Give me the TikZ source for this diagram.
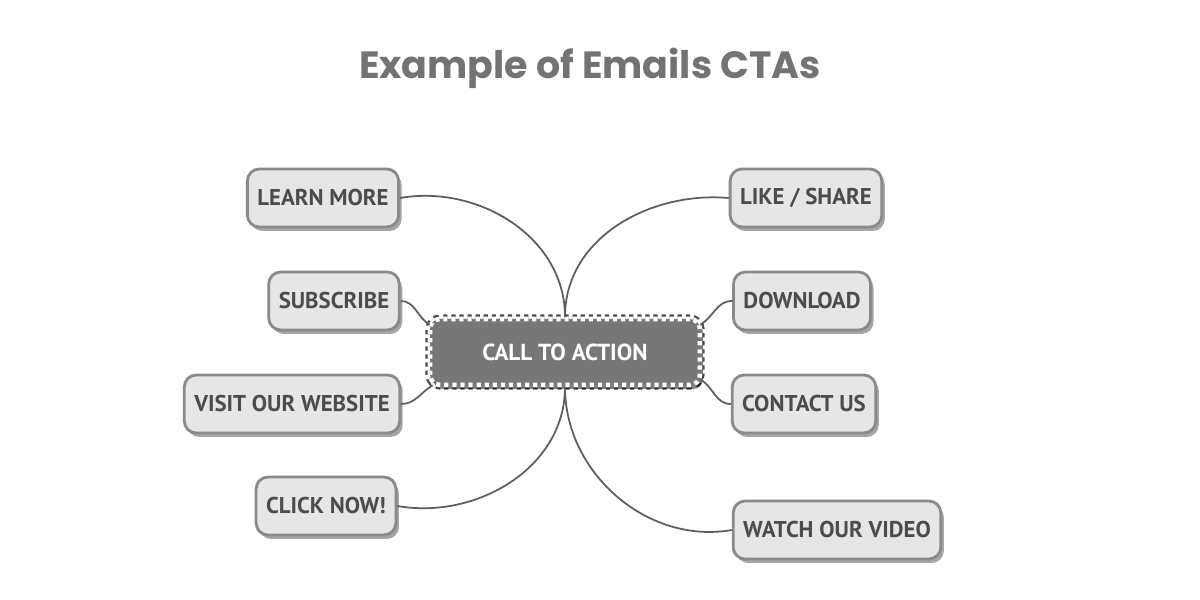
\documentclass[tikz,border=0pt]{standalone}
\usepackage{fontspec}
\setmainfont{PT Sans}
\newfontfamily\titlefont{Poppins}
\usetikzlibrary{shadows,calc}
\definecolor{boxfill}{HTML}{E6E6E6}
\definecolor{boxline}{HTML}{8A8A8A}
\definecolor{boxtext}{HTML}{4C4C4C}
\definecolor{ctafill}{HTML}{777777}
\definecolor{titlegray}{HTML}{737373}
\definecolor{linkgray}{HTML}{5E5E5E}
\tikzset{
  box/.style={draw=boxline,fill=boxfill,rounded corners=0.12cm,thick,minimum height=0.58cm,inner xsep=0.1cm,
    text=boxtext,font=\fontsize{6.5}{8}\selectfont\bfseries,
    drop shadow={shadow xshift=0.03cm,shadow yshift=-0.04cm,opacity=0.35,fill=black}},
  ctabox/.style={fill=ctafill,rounded corners=0.1cm,minimum width=2.7cm,minimum height=0.66cm,
    text=white,font=\fontsize{6.6}{8}\selectfont\bfseries,
    preaction={draw=black!70,line width=2.6pt},draw=white,line width=1.3pt,dash pattern=on 1.2pt off 1.1pt,
    drop shadow={shadow xshift=0.03cm,shadow yshift=-0.04cm,opacity=0.5,fill=black}},
  link/.style={draw=linkgray,line width=0.5pt}
}
\begin{document}
\begin{tikzpicture}
\useasboundingbox[fill=white] (0,0) rectangle (12,6);
\node[text=titlegray,font=\titlefont\fontsize{10.8}{12}\selectfont\bfseries] (title) at (5.9,5.32){Example of Emails CTAs};
\node[ctabox] (cta) at (5.65,2.48){CALL TO ACTION};
\node[box] (learn) at (3.23,4.02){LEARN MORE}; \node[box] (subscribe) at (3.34,2.99){SUBSCRIBE};
\node[box] (visit) at (2.92,1.96){VISIT OUR WEBSITE}; \node[box] (click) at (3.26,0.94){CLICK NOW!};
\node[box] (like) at (8.06,4.02){LIKE / SHARE}; \node[box] (download) at (8.02,2.99){DOWNLOAD};
\node[box] (contact) at (8.04,1.96){CONTACT US}; \node[box] (watch) at (8.37,0.70){WATCH OUR VIDEO};
\draw[link] (learn.east) to[out=10,in=90] (cta.north); \draw[link] (cta.north) to[out=90,in=175] (like.west);
\draw[link] (subscribe.east) to[out=0,in=150] ($(cta.north west)+(0.02,-0.08)$);
\draw[link] ($(cta.north east)+(-0.02,-0.08)$) to[out=30,in=180] (download.west);
\draw[link] (visit.east) to[out=0,in=-150] ($(cta.south west)+(0.05,0.02)$);
\draw[link] ($(cta.south east)+(-0.02,0.08)$) to[out=-30,in=180] (contact.west);
\draw[link] (click.east) to[out=-10,in=-90] (cta.south); \draw[link] (cta.south) to[out=-90,in=190] (watch.west);
\end{tikzpicture}
\end{document}
